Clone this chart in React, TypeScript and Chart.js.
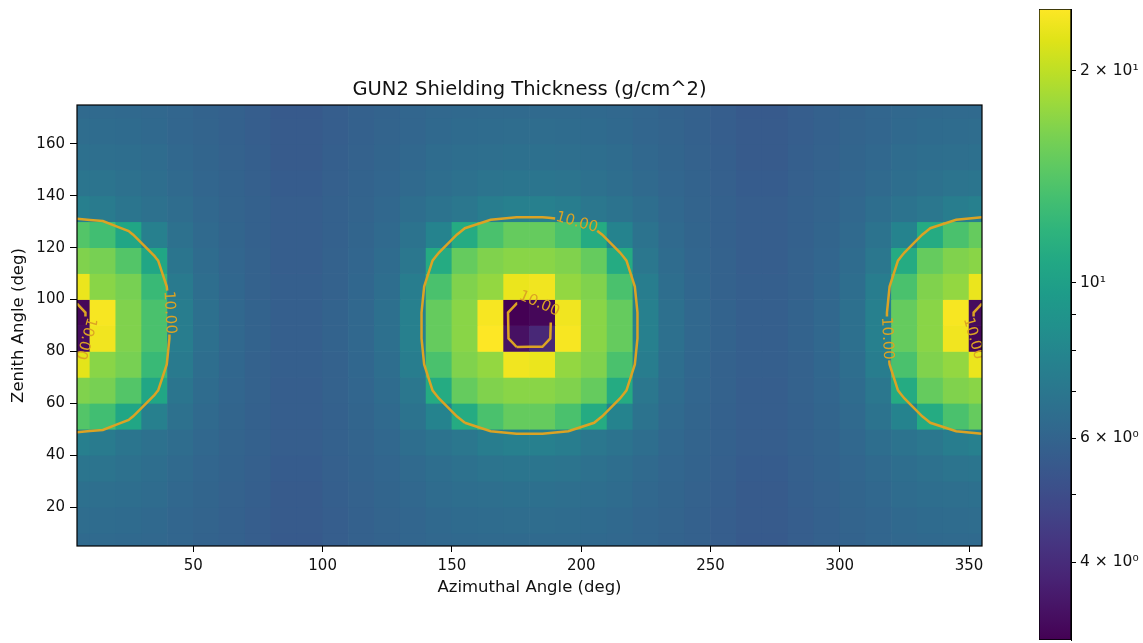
import React, { useEffect, useRef } from 'react';
import { Chart, registerables } from 'chart.js';

Chart.register(...registerables);

// ---------------- data ----------------
const azimuthDeg = [5, 15, 25, 35, 45, 55, 65, 75, 85, 95, 105, 115, 125, 135, 145, 155, 165, 175,
  185, 195, 205, 215, 225, 235, 245, 255, 265, 275, 285, 295, 305, 315, 325, 335, 345, 355];
const zenithDeg = [5, 15, 25, 35, 45, 55, 65, 75, 85, 95, 105, 115, 125, 135, 145, 155, 165, 175];

// thickness (g/cm^2), one array per zenith row, columns follow azimuthDeg
const zen005 = [6.3, 6.3, 6.25, 6.2, 6.1, 5.95, 5.85, 5.7, 5.55, 5.55, 5.7, 5.85, 5.95, 6.1, 6.2, 6.25, 6.3, 6.3, 6.3, 6.3, 6.25, 6.2, 6.1, 5.95, 5.85, 5.7, 5.55, 5.55, 5.7, 5.85, 5.95, 6.1, 6.2, 6.25, 6.3, 6.3];
const zen015 = [6.45, 6.4, 6.35, 6.25, 6.1, 6.0, 5.85, 5.7, 5.6, 5.6, 5.7, 5.85, 6.0, 6.1, 6.25, 6.35, 6.4, 6.45, 6.45, 6.4, 6.35, 6.25, 6.1, 6.0, 5.85, 5.7, 5.6, 5.6, 5.7, 5.85, 6.0, 6.1, 6.25, 6.35, 6.4, 6.45];
const zen025 = [6.6, 6.55, 6.5, 6.4, 6.2, 6.05, 5.9, 5.75, 5.6, 5.6, 5.75, 5.9, 6.05, 6.2, 6.4, 6.5, 6.55, 6.6, 6.6, 6.55, 6.5, 6.4, 6.2, 6.05, 5.9, 5.75, 5.6, 5.6, 5.75, 5.9, 6.05, 6.2, 6.4, 6.5, 6.55, 6.6];
const zen035 = [6.9, 6.85, 6.7, 6.5, 6.3, 6.1, 5.95, 5.8, 5.65, 5.65, 5.8, 5.95, 6.1, 6.3, 6.5, 6.7, 6.85, 6.9, 6.9, 6.85, 6.7, 6.5, 6.3, 6.1, 5.95, 5.8, 5.65, 5.65, 5.8, 5.95, 6.1, 6.3, 6.5, 6.7, 6.85, 6.9];
const zen045 = [7.5, 7.3, 6.9, 6.7, 6.45, 6.2, 6.0, 5.85, 5.7, 5.7, 5.85, 6.0, 6.2, 6.5, 6.8, 7.0, 7.4, 7.6, 7.6, 7.4, 7.0, 6.8, 6.5, 6.2, 6.0, 5.85, 5.7, 5.7, 5.85, 6.0, 6.2, 6.5, 6.8, 7.0, 7.4, 7.6];
const zen055 = [14.0, 13.0, 10.5, 7.6, 6.7, 6.3, 6.05, 5.85, 5.7, 5.7, 5.85, 6.05, 6.3, 6.8, 7.8, 11.0, 13.5, 15.0, 15.0, 13.5, 11.0, 7.8, 6.8, 6.3, 6.05, 5.85, 5.7, 5.7, 5.85, 6.05, 6.3, 6.8, 7.8, 11.0, 13.5, 15.0];
const zen065 = [16.5, 16.0, 14.0, 10.5, 6.9, 6.4, 6.1, 5.9, 5.7, 5.7, 5.9, 6.1, 6.4, 7.0, 11.0, 15.0, 16.5, 17.0, 17.0, 16.5, 15.0, 11.0, 7.0, 6.4, 6.1, 5.9, 5.7, 5.7, 5.9, 6.1, 6.4, 7.0, 11.0, 15.0, 16.5, 17.0];
const zen075 = [22.5, 17.0, 16.0, 12.5, 7.2, 6.5, 6.15, 5.9, 5.75, 5.75, 5.9, 6.15, 6.5, 7.4, 13.5, 16.5, 17.5, 23.5, 23.0, 17.5, 16.5, 13.5, 7.4, 6.5, 6.15, 5.9, 5.75, 5.75, 5.9, 6.15, 6.5, 7.4, 13.5, 16.5, 17.5, 23.0];
const zen085 = [3.3, 23.5, 16.5, 13.5, 7.4, 6.6, 6.2, 5.95, 5.75, 5.75, 5.95, 6.2, 6.6, 7.6, 15.0, 17.0, 24.5, 3.4, 3.9, 24.0, 17.0, 15.0, 7.6, 6.6, 6.2, 5.95, 5.75, 5.75, 5.95, 6.2, 6.6, 7.6, 15.0, 17.0, 23.5, 3.2];
const zen095 = [3.2, 24.0, 16.5, 13.5, 7.4, 6.6, 6.2, 5.95, 5.75, 5.75, 5.95, 6.2, 6.6, 7.6, 15.0, 17.0, 24.0, 3.1, 3.2, 23.5, 17.0, 15.0, 7.6, 6.6, 6.2, 5.95, 5.75, 5.75, 5.95, 6.2, 6.6, 7.6, 15.0, 17.0, 24.0, 3.3];
const zen105 = [23.0, 17.0, 16.0, 12.5, 7.2, 6.5, 6.15, 5.9, 5.75, 5.75, 5.9, 6.15, 6.5, 7.4, 13.5, 16.5, 17.5, 23.0, 23.5, 17.5, 16.5, 13.5, 7.4, 6.5, 6.15, 5.9, 5.75, 5.75, 5.9, 6.15, 6.5, 7.4, 13.5, 16.5, 17.5, 23.0];
const zen115 = [16.5, 16.0, 14.0, 10.5, 6.9, 6.4, 6.1, 5.9, 5.7, 5.7, 5.9, 6.1, 6.4, 7.0, 11.0, 15.0, 16.5, 17.0, 17.0, 16.5, 15.0, 11.0, 7.0, 6.4, 6.1, 5.9, 5.7, 5.7, 5.9, 6.1, 6.4, 7.0, 11.0, 15.0, 16.5, 17.0];
const zen125 = [14.0, 13.0, 10.5, 7.6, 6.7, 6.3, 6.05, 5.85, 5.7, 5.7, 5.85, 6.05, 6.3, 6.8, 7.8, 11.0, 13.5, 15.0, 15.0, 13.5, 11.0, 7.8, 6.8, 6.3, 6.05, 5.85, 5.7, 5.7, 5.85, 6.05, 6.3, 6.8, 7.8, 11.0, 13.5, 15.0];
const zen135 = [7.5, 7.3, 6.9, 6.7, 6.45, 6.2, 6.0, 5.85, 5.7, 5.7, 5.85, 6.0, 6.2, 6.5, 6.8, 7.0, 7.4, 7.6, 7.6, 7.4, 7.0, 6.8, 6.5, 6.2, 6.0, 5.85, 5.7, 5.7, 5.85, 6.0, 6.2, 6.5, 6.8, 7.0, 7.4, 7.6];
const zen145 = [6.9, 6.85, 6.7, 6.5, 6.3, 6.1, 5.95, 5.8, 5.65, 5.65, 5.8, 5.95, 6.1, 6.3, 6.5, 6.7, 6.85, 6.9, 6.9, 6.85, 6.7, 6.5, 6.3, 6.1, 5.95, 5.8, 5.65, 5.65, 5.8, 5.95, 6.1, 6.3, 6.5, 6.7, 6.85, 6.9];
const zen155 = [6.6, 6.55, 6.5, 6.4, 6.2, 6.05, 5.9, 5.75, 5.6, 5.6, 5.75, 5.9, 6.05, 6.2, 6.4, 6.5, 6.55, 6.6, 6.6, 6.55, 6.5, 6.4, 6.2, 6.05, 5.9, 5.75, 5.6, 5.6, 5.75, 5.9, 6.05, 6.2, 6.4, 6.5, 6.55, 6.6];
const zen165 = [6.45, 6.4, 6.35, 6.25, 6.1, 6.0, 5.85, 5.7, 5.6, 5.6, 5.7, 5.85, 6.0, 6.1, 6.25, 6.35, 6.4, 6.45, 6.45, 6.4, 6.35, 6.25, 6.1, 6.0, 5.85, 5.7, 5.6, 5.6, 5.7, 5.85, 6.0, 6.1, 6.25, 6.35, 6.4, 6.45];
const zen175 = [6.3, 6.3, 6.25, 6.2, 6.1, 5.95, 5.85, 5.7, 5.55, 5.55, 5.7, 5.85, 5.95, 6.1, 6.2, 6.25, 6.3, 6.3, 6.3, 6.3, 6.25, 6.2, 6.1, 5.95, 5.85, 5.7, 5.55, 5.55, 5.7, 5.85, 5.95, 6.1, 6.2, 6.25, 6.3, 6.3];

const thicknessRows = [zen005, zen015, zen025, zen035, zen045, zen055, zen065, zen075, zen085,
  zen095, zen105, zen115, zen125, zen135, zen145, zen155, zen165, zen175];

const contourLevels = [10];
const xTickValues = [50, 100, 150, 200, 250, 300, 350];
const yTickValues = [20, 40, 60, 80, 100, 120, 140, 160];
const colorbarTickValues = [4, 5, 6, 7, 8, 9, 10, 20];
const colorbarTickLabels = ['4 × 10⁰', '', '6 × 10⁰', '', '', '', '10¹', '2 × 10¹'];

const TITLE = 'GUN2 Shielding Thickness (g/cm^2)';
const X_TITLE = 'Azimuthal Angle (deg)';
const Y_TITLE = 'Zenith Angle (deg)';

// ---------------- styling ----------------
const FONT = '"DejaVu Sans", "Liberation Sans", sans-serif';
const TEXT_COLOR = '#111111';
const CONTOUR_COLOR = '#dba324';
const LABEL_GAP = 8.5; // data units (equal aspect)
const LABEL_SPAN = 8; // half length used for label rotation (data units)
const LABEL_ANGLE = 65; // preferred label direction for interior contours (deg)

const VIRIDIS = ['#440154', '#471365', '#482475', '#463480', '#414487', '#3b528b', '#355f8d',
  '#2f6c8e', '#2a788e', '#25848e', '#21918c', '#1e9c89', '#22a884', '#2fb47c', '#44bf70',
  '#5ec962', '#7ad151', '#9bd93c', '#bddf26', '#dfe318', '#fde725'];

const hexRgb = (h: string) => [parseInt(h.slice(1, 3), 16), parseInt(h.slice(3, 5), 16), parseInt(h.slice(5, 7), 16)];
const VIRIDIS_RGB = VIRIDIS.map(hexRgb);
function viridis(t: number): string {
  const c = Math.max(0, Math.min(1, t));
  const s = c * (VIRIDIS_RGB.length - 1);
  const i = Math.min(VIRIDIS_RGB.length - 2, Math.floor(s));
  const f = s - i;
  const a = VIRIDIS_RGB[i], b = VIRIDIS_RGB[i + 1];
  const m = (k: number) => Math.round(a[k] + (b[k] - a[k]) * f);
  return `rgb(${m(0)},${m(1)},${m(2)})`;
}

const allValues = thicknessRows.flat();
const vmin = Math.min(...allValues);
const vmax = Math.max(...allValues);
const lmin = Math.log10(vmin), lmax = Math.log10(vmax);
const colorFor = (v: number) => viridis((Math.log10(v) - lmin) / (lmax - lmin));

const xMin = azimuthDeg[0], xMax = azimuthDeg[azimuthDeg.length - 1];
const yMin = zenithDeg[0], yMax = zenithDeg[zenithDeg.length - 1];
const halfDy = (zenithDeg[1] - zenithDeg[0]) / 2;

// heatmap cells as floating bars
const heatData: { x: number; y: [number, number] }[] = [];
const heatColors: string[] = [];
zenithDeg.forEach((zen, j) => {
  azimuthDeg.forEach((az, i) => {
    heatData.push({ x: az, y: [zen - halfDy, zen + halfDy] });
    heatColors.push(colorFor(thicknessRows[j][i]));
  });
});

// ---------------- contour (marching squares on cell centres) ----------------
type P = { x: number; y: number };
function buildContours(z: number[][], xs: number[], ys: number[], level: number): P[][] {
  const ny = z.length, nx = z[0].length;
  const pts = new Map<string, P>();
  const adj = new Map<string, string[]>();
  const edge = (i0: number, j0: number, i1: number, j1: number): string | null => {
    const a = z[j0][i0], b = z[j1][i1];
    if ((a < level) === (b < level)) return null;
    const key = `${i0},${j0},${i1},${j1}`;
    if (!pts.has(key)) {
      const t = (level - a) / (b - a);
      pts.set(key, { x: xs[i0] + t * (xs[i1] - xs[i0]), y: ys[j0] + t * (ys[j1] - ys[j0]) });
    }
    return key;
  };
  const link = (a: string, b: string) => {
    if (!adj.has(a)) adj.set(a, []);
    if (!adj.has(b)) adj.set(b, []);
    adj.get(a)!.push(b);
    adj.get(b)!.push(a);
  };
  for (let j = 0; j < ny - 1; j++) {
    for (let i = 0; i < nx - 1; i++) {
      const bottom = edge(i, j, i + 1, j);
      const right = edge(i + 1, j, i + 1, j + 1);
      const top = edge(i, j + 1, i + 1, j + 1);
      const left = edge(i, j, i, j + 1);
      const ks = [bottom, right, top, left].filter((k): k is string => k !== null);
      if (ks.length === 2) link(ks[0], ks[1]);
      else if (ks.length === 4) {
        const centre = (z[j][i] + z[j][i + 1] + z[j + 1][i + 1] + z[j + 1][i]) / 4;
        if ((centre < level) === (z[j][i] < level)) { link(bottom!, right!); link(top!, left!); }
        else { link(bottom!, left!); link(right!, top!); }
      }
    }
  }
  const visited = new Set<string>();
  const walk = (start: string) => {
    const line = [start];
    visited.add(start);
    let cur = start;
    for (;;) {
      const next = (adj.get(cur) || []).find((k) => !visited.has(k));
      if (!next) break;
      visited.add(next);
      line.push(next);
      cur = next;
    }
    return line;
  };
  const lines: string[][] = [];
  adj.forEach((nb, k) => { if (nb.length === 1 && !visited.has(k)) lines.push(walk(k)); });
  adj.forEach((_nb, k) => { if (!visited.has(k)) { const l = walk(k); l.push(l[0]); lines.push(l); } });
  return lines.map((l) => l.map((k) => pts.get(k)!));
}

const isClosed = (line: P[]) => line[0].x === line[line.length - 1].x && line[0].y === line[line.length - 1].y;

// move along the polyline from segment k / parameter s by an arc length, forwards or backwards
function walkAlong(line: P[], k: number, s: number, dist: number, sign: number): P {
  const n = line.length;
  const closed = isClosed(line);
  let cur = { x: line[k].x + s * (line[k + 1].x - line[k].x), y: line[k].y + s * (line[k + 1].y - line[k].y) };
  let remaining = dist;
  let idx = sign > 0 ? k + 1 : k;
  let guard = 0;
  while (remaining > 1e-9 && guard++ < 4 * n) {
    if (idx > n - 1) { if (!closed) break; idx = 1; }
    if (idx < 0) { if (!closed) break; idx = n - 2; }
    const t = line[idx];
    const d = Math.hypot(t.x - cur.x, t.y - cur.y);
    if (d >= remaining && d > 0) {
      return { x: cur.x + ((t.x - cur.x) * remaining) / d, y: cur.y + ((t.y - cur.y) * remaining) / d };
    }
    remaining -= d;
    cur = t;
    idx += sign;
  }
  return cur;
}

type Label = { at: P; back: P; fwd: P; text: string };
function pickLabel(line: P[], text: string): Label {
  const n = line.length;
  const cx = line.reduce((s, p) => s + p.x, 0) / n;
  const cy = line.reduce((s, p) => s + p.y, 0) / n;
  const band = (xMax - xMin) * 0.15;
  let k = 0, s = 0;
  if (cx < xMin + band || cx > xMax - band) {
    const score = cx < xMin + band ? (p: P) => p.x + 1e-3 * p.y : (p: P) => -p.x - 1e-3 * p.y;
    let best = 0;
    for (let i = 1; i < n; i++) if (score(line[i]) > score(line[best])) best = i;
    if (best < n - 1) { k = best; s = 0; } else { k = n - 2; s = 1; }
  } else {
    // interior contour: where the ray from the centroid at LABEL_ANGLE meets the line
    const a = (LABEL_ANGLE * Math.PI) / 180;
    const ux = Math.cos(a), uy = Math.sin(a);
    let bestT = -1;
    for (let i = 0; i < n - 1; i++) {
      const A = line[i], B = line[i + 1];
      const ex = B.x - A.x, ey = B.y - A.y;
      const den = ux * ey - uy * ex;
      if (Math.abs(den) < 1e-12) continue;
      const wx = A.x - cx, wy = A.y - cy;
      const t = (wx * ey - wy * ex) / den;
      const ss = (wx * uy - wy * ux) / den;
      if (ss >= 0 && ss <= 1 && t > 0 && t > bestT) { bestT = t; k = i; s = ss; }
    }
  }
  const at = { x: line[k].x + s * (line[k + 1].x - line[k].x), y: line[k].y + s * (line[k + 1].y - line[k].y) };
  return { at, back: walkAlong(line, k, s, LABEL_SPAN, -1), fwd: walkAlong(line, k, s, LABEL_SPAN, 1), text };
}

function cutLine(line: P[], circles: { x: number; y: number; r: number }[]): P[][] {
  const out: P[][] = [];
  let cur: P[] = [];
  for (let k = 0; k < line.length - 1; k++) {
    const A = line[k], B = line[k + 1];
    const dx = B.x - A.x, dy = B.y - A.y;
    const ins: [number, number][] = [];
    for (const c of circles) {
      const fx = A.x - c.x, fy = A.y - c.y;
      const qa = dx * dx + dy * dy, qb = 2 * (fx * dx + fy * dy), qc = fx * fx + fy * fy - c.r * c.r;
      const disc = qb * qb - 4 * qa * qc;
      if (qa === 0 || disc <= 0) continue;
      const sq = Math.sqrt(disc);
      const t1 = Math.max(0, (-qb - sq) / (2 * qa)), t2 = Math.min(1, (-qb + sq) / (2 * qa));
      if (t2 > t1) ins.push([t1, t2]);
    }
    ins.sort((p, q) => p[0] - q[0]);
    const pieces: [number, number][] = [];
    let s = 0;
    for (const [a, b] of ins) {
      if (a > s) pieces.push([s, a]);
      s = Math.max(s, b);
    }
    if (s < 1) pieces.push([s, 1]);
    const at = (t: number) => ({ x: A.x + t * dx, y: A.y + t * dy });
    for (const [ps, pe] of pieces) {
      if (ps > 0 || cur.length === 0) {
        if (cur.length > 1) out.push(cur);
        cur = [at(ps)];
      }
      cur.push(at(pe));
      if (pe < 1) { out.push(cur); cur = []; }
    }
  }
  if (cur.length > 1) out.push(cur);
  return out;
}

const contourLabels: Label[] = [];
const contourPoints: { x: number; y: number | null }[] = [];
contourLevels.forEach((level) => {
  const lines = buildContours(thicknessRows, azimuthDeg, zenithDeg, level);
  const labels = lines.map((l) => pickLabel(l, level.toFixed(2)));
  contourLabels.push(...labels);
  const circles = labels.map((lb) => ({ x: lb.at.x, y: lb.at.y, r: LABEL_GAP }));
  lines.forEach((l) => {
    cutLine(l, circles).forEach((piece) => {
      piece.forEach((p) => contourPoints.push({ x: p.x, y: p.y }));
      contourPoints.push({ x: piece[piece.length - 1].x, y: null });
    });
  });
});

// ---------------- plugins ----------------
const contourLabelPlugin = {
  id: 'contourLabels',
  afterDatasetsDraw(chart: any) {
    const { ctx, chartArea: a, scales } = chart;
    const xs = scales.x, ys = scales.y;
    ctx.save();
    ctx.beginPath();
    ctx.rect(a.left, a.top, a.right - a.left, a.bottom - a.top);
    ctx.clip();
    ctx.fillStyle = CONTOUR_COLOR;
    ctx.font = `15px ${FONT}`;
    ctx.textAlign = 'center';
    ctx.textBaseline = 'middle';
    for (const lb of contourLabels) {
      const px = xs.getPixelForValue(lb.at.x), py = ys.getPixelForValue(lb.at.y);
      const dx = xs.getPixelForValue(lb.fwd.x) - xs.getPixelForValue(lb.back.x);
      const dy = ys.getPixelForValue(lb.fwd.y) - ys.getPixelForValue(lb.back.y);
      let ang = (Math.atan2(dy, dx) * 180) / Math.PI;
      while (ang > 110) ang -= 180;
      while (ang <= -70) ang += 180;
      ctx.save();
      ctx.translate(px, py);
      ctx.rotate((ang * Math.PI) / 180);
      ctx.fillText(lb.text, 0, 0);
      ctx.restore();
    }
    ctx.restore();
  },
};

const framePlugin = {
  id: 'frame',
  afterDraw(chart: any) {
    const { ctx, chartArea: a } = chart;
    ctx.save();
    ctx.strokeStyle = '#000';
    ctx.lineWidth = 1.2;
    ctx.strokeRect(a.left, a.top, a.right - a.left, a.bottom - a.top);
    ctx.restore();
  },
};

const noEdgePadding = (s: any) => { s.paddingTop = 0; s.paddingBottom = 0; };

export default function App() {
  const mainRef = useRef<HTMLCanvasElement>(null);
  const barRef = useRef<HTMLCanvasElement>(null);

  useEffect(() => {
    const tickFont = { family: FONT, size: 15 };
    const main = new Chart(mainRef.current!, {
      type: 'bar',
      data: {
        datasets: [
          {
            type: 'line',
            data: contourPoints as any,
            borderColor: CONTOUR_COLOR,
            borderWidth: 2.5,
            pointRadius: 0,
            tension: 0.001,
            fill: false,
            spanGaps: false,
            order: 0,
          } as any,
          {
            type: 'bar',
            data: heatData as any,
            backgroundColor: heatColors,
            borderWidth: 0,
            barPercentage: 1,
            categoryPercentage: 1,
            grouped: false,
            clip: 0,
            order: 1,
          } as any,
        ],
      },
      options: {
        animation: false,
        responsive: false,
        maintainAspectRatio: false,
        events: [],
        layout: { padding: { left: 0, right: 161, top: 0, bottom: 45 } },
        plugins: {
          legend: { display: false },
          tooltip: { enabled: false },
          title: {
            display: true,
            text: TITLE,
            fullSize: false,
            color: TEXT_COLOR,
            font: { family: FONT, size: 19.5, weight: 'normal', lineHeight: 1.2 },
            padding: { top: 78.3, bottom: 3.3 },
          },
        },
        scales: {
          x: {
            type: 'linear',
            min: xMin,
            max: xMax,
            offset: false,
            grid: { display: true, offset: false, drawOnChartArea: false, drawTicks: true, tickLength: 6, color: '#000' },
            border: { display: false },
            ticks: { font: tickFont, color: TEXT_COLOR, padding: 5, maxRotation: 0, autoSkip: false },
            afterBuildTicks: (s: any) => { s.ticks = xTickValues.map((v) => ({ value: v })); },
            afterFit: (s: any) => { s.height = 52; },
            title: { display: true, text: X_TITLE, color: TEXT_COLOR, font: { family: FONT, size: 16.5, lineHeight: 1.2 }, padding: { top: 0, bottom: 0 } },
          },
          y: {
            type: 'linear',
            min: yMin,
            max: yMax,
            grid: { display: true, drawOnChartArea: false, drawTicks: true, tickLength: 7, color: '#000' },
            border: { display: false },
            ticks: { font: tickFont, color: TEXT_COLOR, padding: 5, autoSkip: false },
            afterBuildTicks: (s: any) => { s.ticks = yTickValues.map((v) => ({ value: v })); },
            afterFit: (s: any) => { s.width = 77; noEdgePadding(s); },
            title: { display: true, text: Y_TITLE, color: TEXT_COLOR, font: { family: FONT, size: 16.5, lineHeight: 1.2 }, padding: { top: 8.5, bottom: 0 } },
          },
        },
      } as any,
      plugins: [contourLabelPlugin, framePlugin],
    });

    const cbar = new Chart(barRef.current!, {
      type: 'bar',
      data: {
        labels: ['thickness'],
        datasets: [
          {
            data: [[vmin, vmax]] as any,
            backgroundColor: (c: any) => {
              const area = c.chart.chartArea;
              if (!area) return 'transparent';
              const g = c.chart.ctx.createLinearGradient(0, area.bottom, 0, area.top);
              VIRIDIS.forEach((col, i) => g.addColorStop(i / (VIRIDIS.length - 1), col));
              return g;
            },
            borderColor: '#000',
            borderWidth: 1,
            borderSkipped: false,
            barPercentage: 1,
            categoryPercentage: 1,
          } as any,
        ],
      },
      options: {
        animation: false,
        responsive: false,
        maintainAspectRatio: false,
        events: [],
        layout: { padding: { left: 39, right: 0, top: 9, bottom: 3 } },
        plugins: { legend: { display: false }, tooltip: { enabled: false } },
        scales: {
          x: { display: false },
          y: {
            type: 'logarithmic',
            position: 'right',
            min: vmin,
            max: vmax,
            grid: { display: true, drawOnChartArea: false, drawTicks: true, tickLength: 5, color: '#000' },
            border: { display: true, color: '#000' },
            ticks: {
              font: { family: FONT, size: 15.5 },
              color: TEXT_COLOR,
              padding: 4,
              autoSkip: false,
              callback: (v: any) => {
                const idx = colorbarTickValues.indexOf(Number(v));
                return idx >= 0 ? colorbarTickLabels[idx] : '';
              },
            },
            afterBuildTicks: (s: any) => { s.ticks = colorbarTickValues.map((v) => ({ value: v })); },
            afterFit: (s: any) => { s.width = 72; noEdgePadding(s); },
          },
        },
      } as any,
    });

    return () => {
      main.destroy();
      cbar.destroy();
    };
  }, []);

  return (
    <div style={{ position: 'absolute', left: 0, top: 0, width: 1143, height: 643, background: '#ffffff' }}>
      <canvas ref={mainRef} width={1143} height={643} style={{ position: 'absolute', left: 0, top: 0, display: 'block' }} />
      <canvas ref={barRef} width={143} height={643} style={{ position: 'absolute', left: 1000, top: 0, display: 'block' }} />
    </div>
  );
}
